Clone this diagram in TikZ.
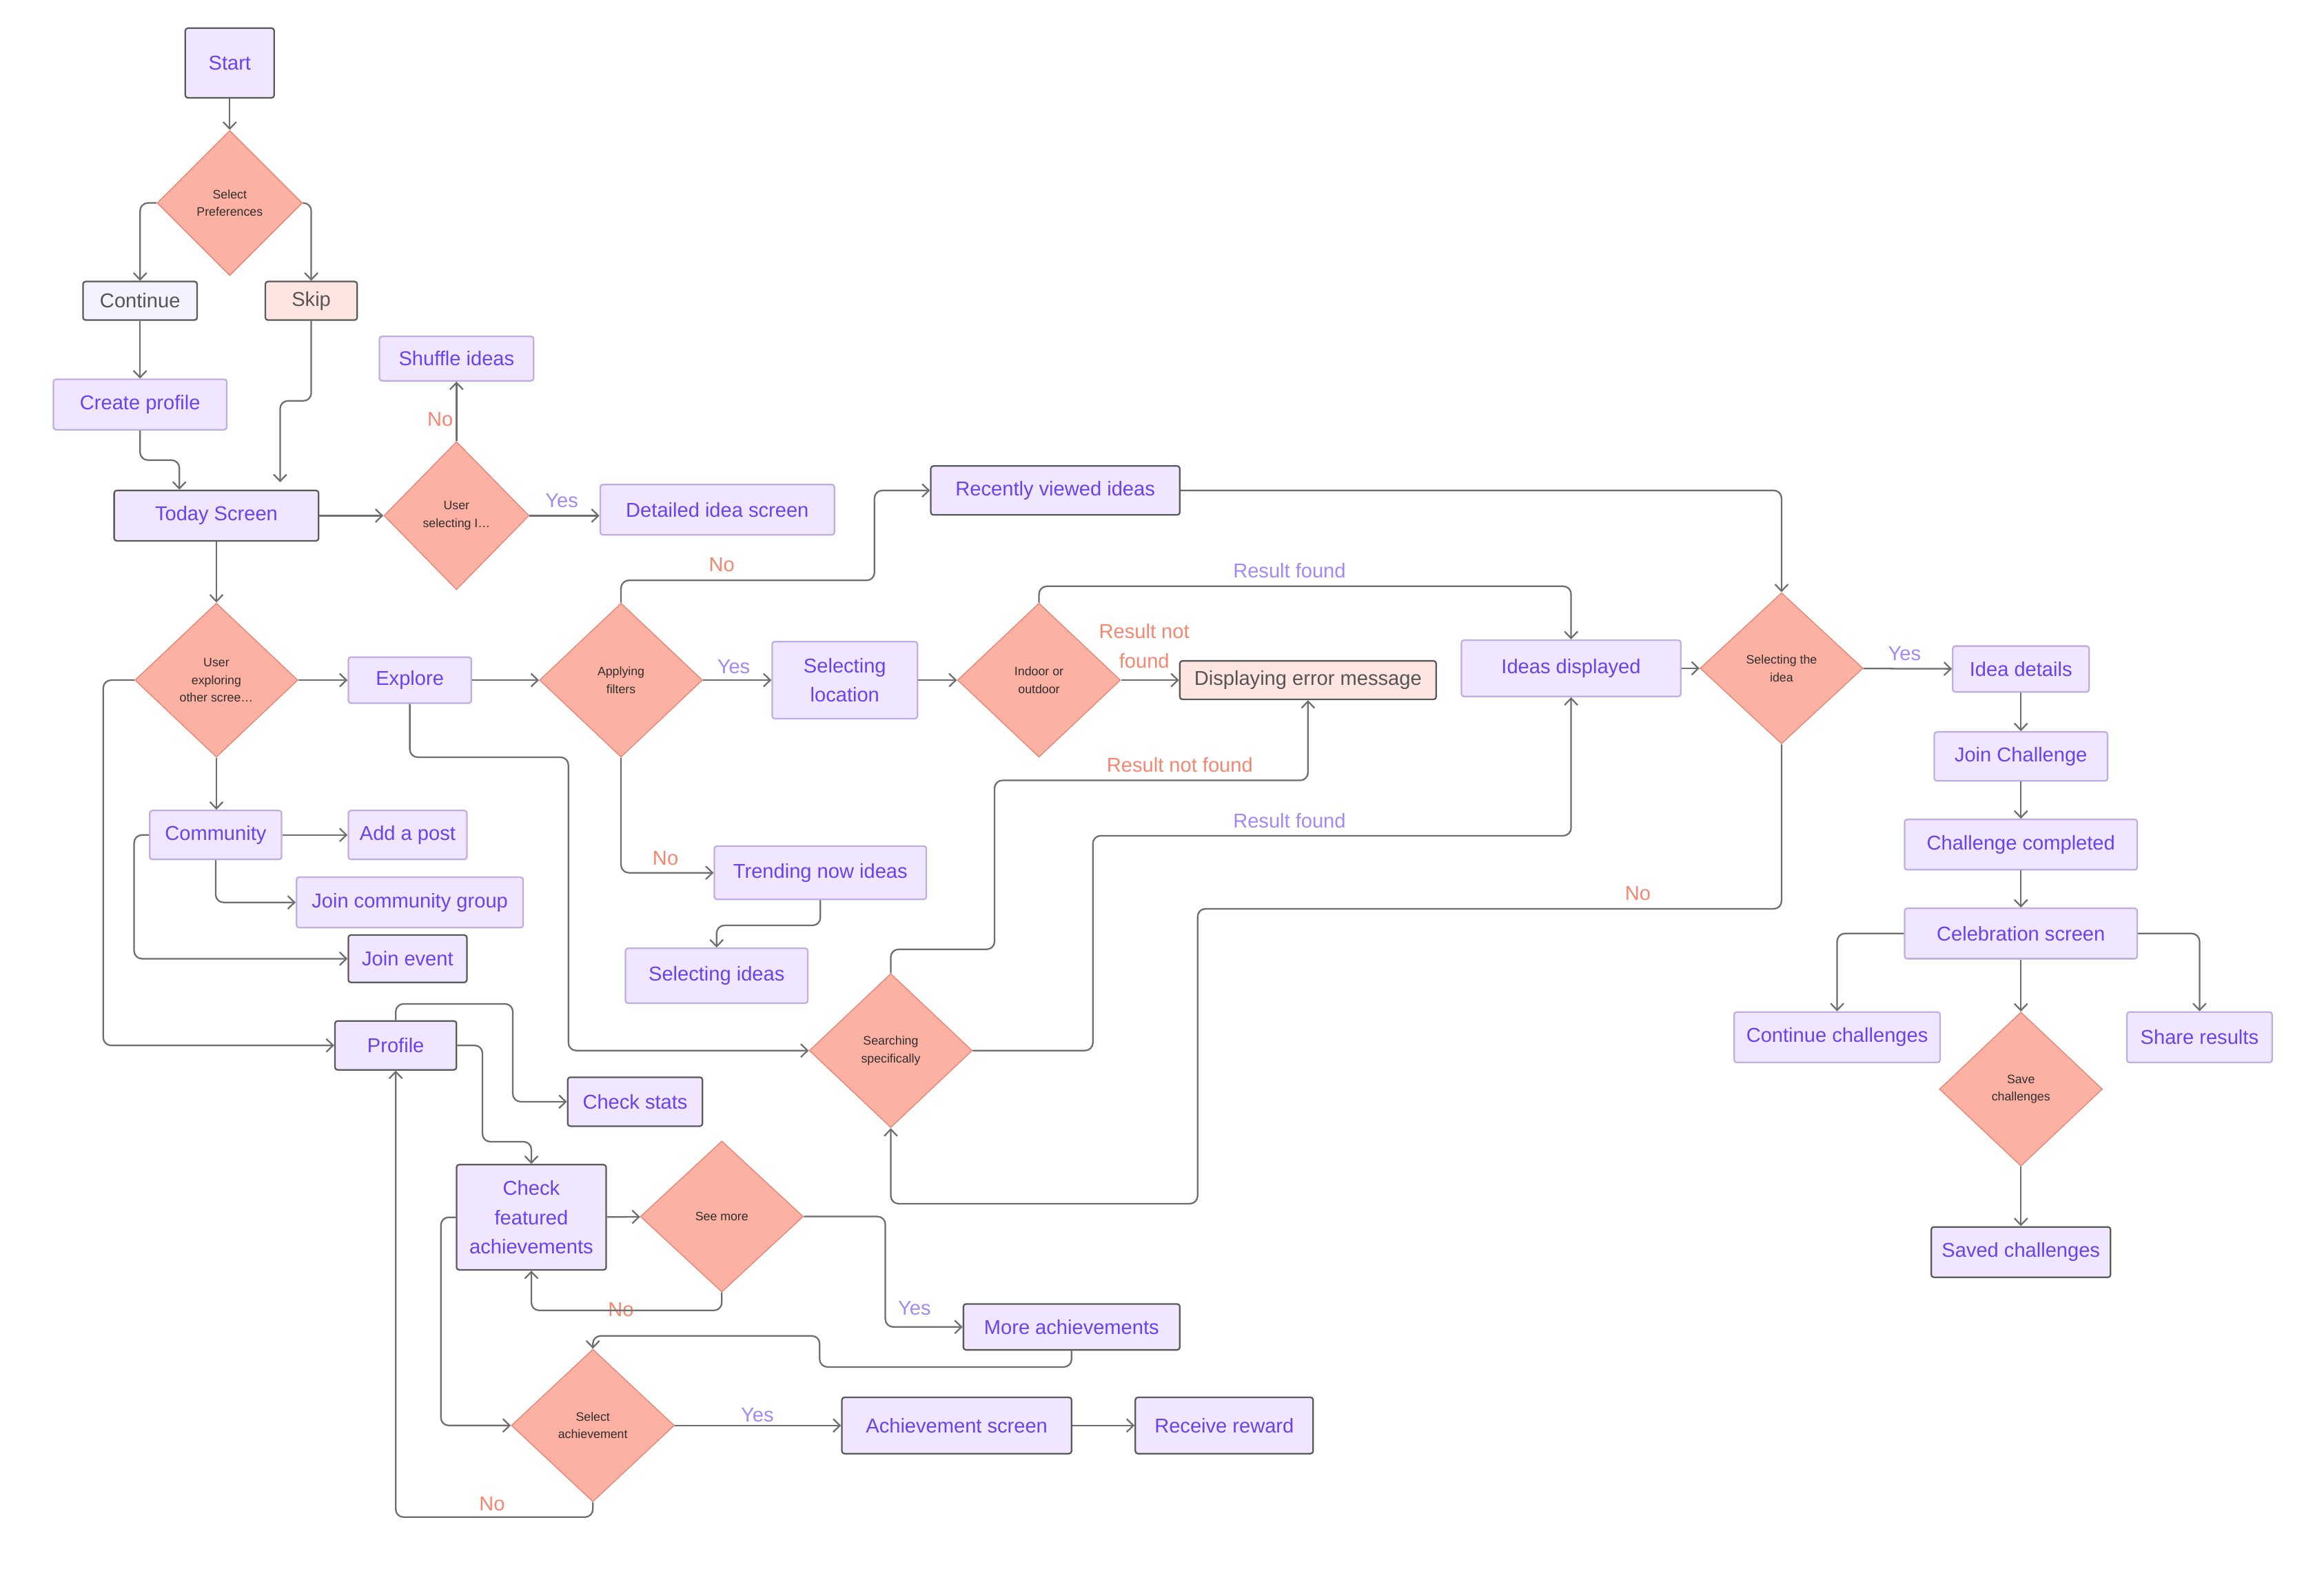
\documentclass[tikz,border=0pt]{standalone}
\usepackage{fontspec}
\setmainfont{Liberation Sans}
\usetikzlibrary{shapes.geometric,arrows.meta}

\definecolor{boxfill}{HTML}{F0E6FF}
\definecolor{boxtext}{HTML}{6A42F2}
\definecolor{lightedge}{HTML}{BFAEE0}
\definecolor{darkedge}{HTML}{5A5A5A}
\definecolor{greytext}{HTML}{555555}
\definecolor{paleblue}{HTML}{F4F2FF}
\definecolor{palepink}{HTML}{FFE5E2}
\definecolor{dmdfill}{HTML}{FCB1A3}
\definecolor{dmdedge}{HTML}{E48C7C}
\definecolor{dmdtext}{HTML}{2E2E2E}
\definecolor{yescol}{HTML}{A08AF5}
\definecolor{nocol}{HTML}{F5866F}
\definecolor{linecol}{HTML}{6E6E6E}

\tikzset{
  box/.style={shape=rectangle, rounded corners=1pt, draw=lightedge, line width=0.6pt,
    fill=boxfill, text=boxtext, font=\fontsize{7.7}{11.3}\selectfont, align=center, inner sep=1pt},
  dark/.style={draw=darkedge},
  decision/.style={shape=diamond, draw=dmdedge, fill=dmdfill, text=dmdtext, line width=0.4pt,
    font=\fontsize{4.7}{6.8}\selectfont, align=center, inner sep=0pt,
    minimum width=2.2cm, minimum height=2.08cm},
  yeslbl/.style={text=yescol, font=\fontsize{7.7}{11.3}\selectfont, align=center, inner sep=0pt},
  nolbl/.style={text=nocol, font=\fontsize{7.7}{11.3}\selectfont, align=center, inner sep=0pt},
  flow/.style={draw=linecol, line width=0.6pt, rounded corners=3pt,
    -{Straight Barb[length=2.6pt,width=5pt]}}
}

\begin{document}
\begin{tikzpicture}[x=0.02cm, y=-0.02cm]
      \fill[white] (0,0) rectangle (1568,1060);

      \node[box, dark, minimum width=1.2cm, minimum height=0.94cm] (start) at (155,42.5) {Start};
      \node[decision, minimum width=1.96cm, minimum height=1.96cm] (selpref) at (155,137) {Select\\Preferences};
      \node[box, dark, fill=paleblue, text=greytext, minimum width=1.54cm, minimum height=0.52cm] (cont) at (94.5,203) {Continue};
      \node[box, dark, fill=palepink, text=greytext, minimum width=1.24cm, minimum height=0.52cm] (skip) at (210,203) {Skip};
      \node[box, minimum width=2.34cm, minimum height=0.68cm] (cprof) at (94.5,273) {Create profile};
      \node[box, minimum width=2.08cm, minimum height=0.6cm] (shuf) at (308,242) {Shuffle ideas};
      \node[box, dark, minimum width=2.76cm, minimum height=0.68cm] (today) at (146,348) {Today Screen};
      \node[decision, minimum width=1.96cm, minimum height=2.0cm] (usel) at (308,348) {User\\selecting I…};
      \node[box, minimum width=3.16cm, minimum height=0.68cm] (detail) at (484,344) {Detailed idea screen};
      \node[box, dark, minimum width=3.36cm, minimum height=0.66cm] (recent) at (712,331) {Recently viewed ideas};

      \node[decision] (uexp) at (146,459) {User\\exploring\\other scree…};
      \node[box, minimum width=1.66cm, minimum height=0.62cm] (explore) at (276.5,459) {Explore};
      \node[decision] (applyf) at (419,459) {Applying\\filters};
      \node[box, minimum width=1.96cm, minimum height=1.04cm] (selloc) at (570,459) {Selecting\\location};
      \node[decision] (indoor) at (701,459) {Indoor or\\outdoor};
      \node[box, dark, fill=palepink, text=greytext, minimum width=3.46cm, minimum height=0.52cm] (err) at (882.5,459) {Displaying error message};
      \node[box, minimum width=2.96cm, minimum height=0.76cm] (ideas) at (1060,451) {Ideas displayed};
      \node[decision, minimum height=2.04cm] (selidea) at (1202,451) {Selecting the\\idea};
      \node[box, minimum width=1.84cm, minimum height=0.62cm] (idet) at (1363.5,451.5) {Idea details};
      \node[box, minimum width=2.34cm, minimum height=0.66cm] (joinch) at (1363.5,510.5) {Join Challenge};
      \node[box, minimum width=3.14cm, minimum height=0.68cm] (chdone) at (1363.5,570) {Challenge completed};
      \node[box, minimum width=3.14cm, minimum height=0.68cm] (celeb) at (1363.5,630) {Celebration screen};
      \node[box, minimum width=2.78cm, minimum height=0.68cm] (contch) at (1239.5,700) {Continue challenges};
      \node[decision] (savech) at (1363.5,735) {Save\\challenges};
      \node[box, minimum width=1.96cm, minimum height=0.68cm] (share) at (1484,700) {Share results};
      \node[box, dark, minimum width=2.42cm, minimum height=0.68cm] (saved) at (1363.5,845) {Saved challenges};

      \node[box, minimum width=1.78cm, minimum height=0.66cm] (comm) at (145.5,563.5) {Community};
      \node[box, minimum width=1.6cm, minimum height=0.66cm] (addpost) at (275,563.5) {Add a post};
      \node[box, minimum width=3.06cm, minimum height=0.68cm] (jgroup) at (276.5,609) {Join community group};
      \node[box, dark, minimum width=1.6cm, minimum height=0.64cm] (jevent) at (275,647) {Join event};
      \node[box, minimum width=2.86cm, minimum height=0.72cm] (trend) at (553.5,589) {Trending now ideas};
      \node[box, minimum width=2.46cm, minimum height=0.74cm] (selid) at (483.5,658.5) {Selecting ideas};
      \node[box, dark, minimum width=1.64cm, minimum height=0.66cm] (profile) at (267,705.5) {Profile};
      \node[box, dark, minimum width=1.82cm, minimum height=0.66cm] (stats) at (428.5,743.5) {Check stats};
      \node[decision] (search) at (601,709) {Searching\\specifically};
      \node[box, dark, minimum width=2.02cm, minimum height=1.42cm] (featured) at (358.5,821.5) {Check\\featured\\achievements};
      \node[decision, minimum height=2.04cm] (seemore) at (487,821) {See more};
      \node[box, dark, minimum width=2.92cm, minimum height=0.62cm] (more) at (723,895.5) {More achievements};
      \node[decision, minimum height=2.06cm] (selach) at (400,962) {Select\\achievement};
      \node[box, dark, minimum width=3.1cm, minimum height=0.76cm] (achscr) at (645.5,962) {Achievement screen};
      \node[box, dark, minimum width=2.4cm, minimum height=0.76cm] (reward) at (826,962) {Receive reward};

      \node[nolbl] (n1) at (297,283) {No};
      \node[yeslbl] (y1) at (379,338) {Yes};
      \node[nolbl] (n2) at (487,381) {No};
      \node[yeslbl] (y2) at (495,450) {Yes};
      \node[nolbl] (n3) at (449,579) {No};
      \node[nolbl] (r1) at (772,436) {Result not\\found};
      \node[yeslbl] (r2) at (870,385) {Result found};
      \node[nolbl] (r3) at (796,516) {Result not found};
      \node[yeslbl] (r4) at (870,554) {Result found};
      \node[yeslbl] (y3) at (1285,441) {Yes};
      \node[nolbl] (n4) at (1105,603) {No};
      \node[yeslbl] (y4) at (617,883) {Yes};
      \node[nolbl] (n5) at (419,884) {No};
      \node[yeslbl] (y5) at (511,955) {Yes};
      \node[nolbl] (n6) at (332,1015) {No};

      \path [flow] (start) edge (selpref);
      \draw [flow] (selpref.west) -| (cont.north);
      \draw [flow] (selpref.east) -| (skip.north);
      \path [flow] (cont) edge (cprof);
      \draw [flow] (cprof.south) -- ++(0,20) -| ([xshift=-0.5cm]today.north);
      \draw [flow] (skip.south) -- ++(0,54) -| ([xshift=0.86cm,yshift=0.1cm]today.north);
      \path [flow] (today) edge (usel);
      \path [flow] (usel) edge (shuf);
      \draw [flow] (usel.east) -- (detail.west |- usel.east);
      \path [flow] (today) edge (uexp);
      \path [flow] (uexp) edge (explore);
      \draw [flow] (uexp.south) -- (uexp.south |- comm.north);
      \draw [flow] (uexp.west) -- ++(-21,0) |- (profile.west);
      \path [flow] (explore) edge (applyf);
      \draw [flow] (explore.south) -- ++(0,36) -- ++(107,0) |- (search.west);
      \path [flow] (applyf) edge (selloc);
      \draw [flow] (applyf.north) -- ++(0,-15) -- ++(171,0) |- (recent.west);
      \draw [flow] (applyf.south) |- (trend.west);
      \draw [flow] (trend.south) -- ++(0,17) -| (selid.north);
      \path [flow] (selloc) edge (indoor);
      \path [flow] (indoor) edge (err);
      \draw [flow] (indoor.north) -- ++(0,-11) -| (ideas.north);
      \draw [flow] (search.north) -- ++(0,-16) -| ++(70,-114) -| (err.south);
      \draw [flow] (search.east) -| ++(81,-145) -| (ideas.south);
      \draw [flow] (recent.east) -| (selidea.north);
      \path [flow] (ideas) edge (selidea);
      \path [flow] (selidea) edge (idet);
      \draw [flow] (selidea.south) -- ++(0,111) -| ++(-394,199) -| (search.south);
      \path [flow] (idet) edge (joinch);
      \path [flow] (joinch) edge (chdone);
      \path [flow] (chdone) edge (celeb);
      \draw [flow] (celeb.west) -| (contch.north);
      \path [flow] (celeb) edge (savech);
      \draw [flow] (celeb.east) -| (share.north);
      \path [flow] (savech) edge (saved);
      \path [flow] (comm) edge (addpost);
      \draw [flow] (comm.south) |- (jgroup.west);
      \draw [flow] (comm.west) -- ++(-10,0) |- (jevent.west);
      \draw [flow] (profile.north) -- ++(0,-11) -- ++(79,0) |- (stats.west);
      \draw [flow] (profile.east) -| ++(17,65) -| (featured.north);
      \path [flow] (featured) edge (seemore);
      \draw [flow] (seemore.east) -- ++(55,0) |- (more.west);
      \draw [flow] (seemore.south) -- ++(0,12) -| (featured.south);
      \draw [flow] (more.south) -- ++(0,11) -| ++(-170,-21) -| (selach.north);
      \draw [flow] (featured.west) -- ++(-10,0) |- (selach.west);
      \path [flow] (selach) edge (achscr);
      \path [flow] (achscr) edge (reward);
      \draw [flow] (selach.south) -- ++(0,10) -| (profile.south);
    \end{tikzpicture}
\end{document}
